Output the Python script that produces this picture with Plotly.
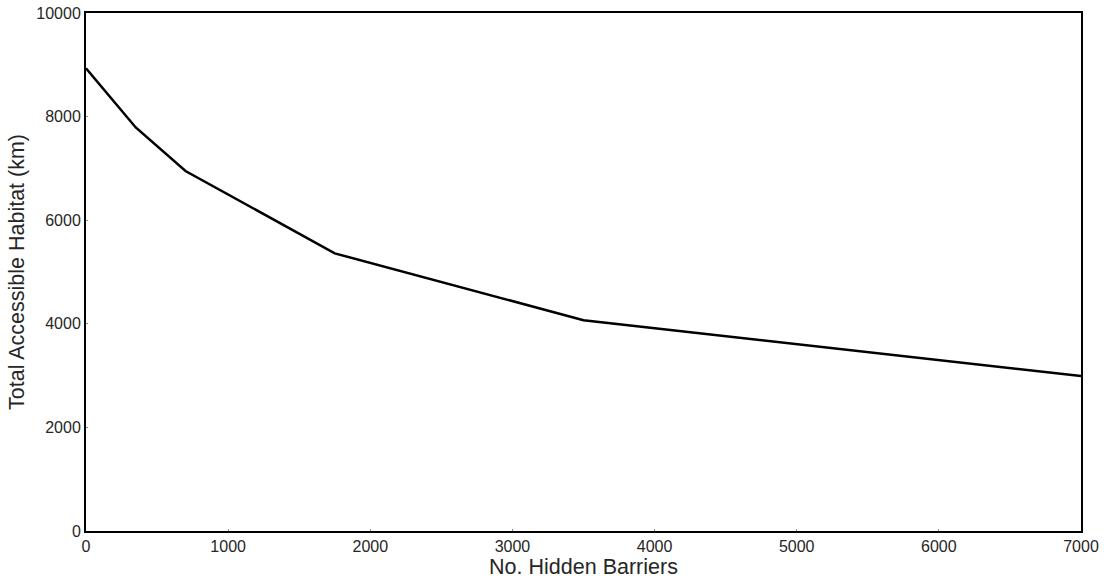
import plotly.graph_objects as go

hidden_barriers = [0, 350, 700, 1750, 3500, 7000]
accessible_habitat = [8930, 7790, 6950, 5360, 4070, 2990]

x_ticks = [0, 1000, 2000, 3000, 4000, 5000, 6000, 7000]
y_ticks = [0, 2000, 4000, 6000, 8000, 10000]

fig = go.Figure()
fig.add_trace(go.Scatter(
    x=hidden_barriers, y=accessible_habitat, mode="lines",
    line=dict(color="black", width=2.5), showlegend=False,
))

font_color = "#262626"
fig.update_layout(
    width=1104, height=582,
    margin=dict(l=86, r=23, t=13, b=51),
    paper_bgcolor="white", plot_bgcolor="white",
    font=dict(family="Liberation Sans, Arial, sans-serif", color=font_color, size=16),
)
fig.update_xaxes(
    range=[0, 7000], tickvals=x_ticks, ticktext=[str(v) for v in x_ticks],
    showgrid=False, zeroline=False, automargin=False,
    showline=True, linecolor="black", linewidth=2, mirror=True,
    ticks="inside", ticklen=2, tickcolor="#888888",
    tickfont=dict(size=16),
    title=dict(text="No. Hidden Barriers", font=dict(size=21.5), standoff=4),
)
fig.update_yaxes(
    range=[0, 10000], tickvals=y_ticks, ticktext=[str(v) for v in y_ticks],
    showgrid=False, zeroline=False, automargin=False,
    showline=True, linecolor="black", linewidth=2, mirror=True,
    ticks="inside", ticklen=2, tickcolor="#888888",
    tickfont=dict(size=16),
    title=dict(text="Total Accessible Habitat (km)", font=dict(size=21.5), standoff=6),
)

fig.write_html(
    "out.html",
    config={"displayModeBar": False},
    post_script="document.body.style.margin='0';document.body.style.overflow='hidden';",
)
